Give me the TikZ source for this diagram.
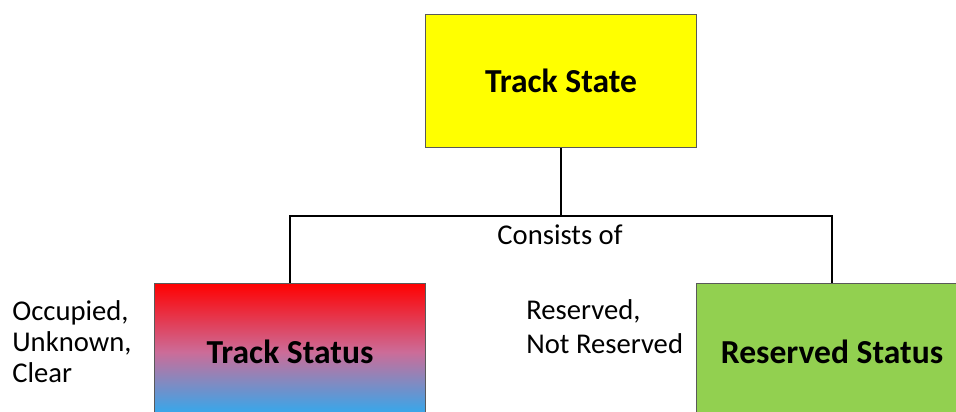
\documentclass[tikz,border=0pt]{standalone}
\usepackage{fontspec}
\setmainfont{Carlito}
\definecolor{stateyellow}{RGB}{255,255,0}
\definecolor{reservedgreen}{RGB}{146,208,80}
\definecolor{trackred}{RGB}{255,0,0}
\definecolor{trackmauve}{RGB}{204,108,152}
\definecolor{trackblue}{RGB}{34,176,246}
\tikzset{
    status box/.style={
        draw=black!65,line width=.02cm,
        minimum width=5.42cm,minimum height=2.76cm,
        font=\fontsize{19.1}{23}\selectfont\bfseries
    },
    status text/.style={
        align=left,inner sep=0pt,
        font=\fontsize{16.3}{17.6}\selectfont
    }
}
\begin{document}
\begin{tikzpicture}[x=.02cm,y=-.02cm]
        \useasboundingbox (0,0) rectangle (956,412);
        \clip (0,0) rectangle (956,412);
        \node[status box,fill=stateyellow,minimum height=2.68cm] (state) at (561,81) {Track State};
        \node[status box,top color=trackred,bottom color=trackblue,middle color=trackmauve] (track) at (290,352) {Track Status};
        \node[status box,fill=reservedgreen] (reserved) at (832,352) {Reserved Status};
        \coordinate (split) at (561,216);
        \draw[line width=.03cm] (state.south) -- (split);
        \draw[line width=.03cm] (track.north) |- (split) -| (reserved.north);
        \node[status text,anchor=base] (consists) at (560,244) {Consists of};
        % base anchor sits on the last line
        \node[status text,anchor=base west,font=\fontsize{16.3}{19.3}\selectfont] (reserved values) at (526,353) {Reserved,\\Not Reserved};
        \node[status text,anchor=base west] (track values) at (12,382) {Occupied,\\Unknown,\\Clear};
    \end{tikzpicture}
\end{document}
